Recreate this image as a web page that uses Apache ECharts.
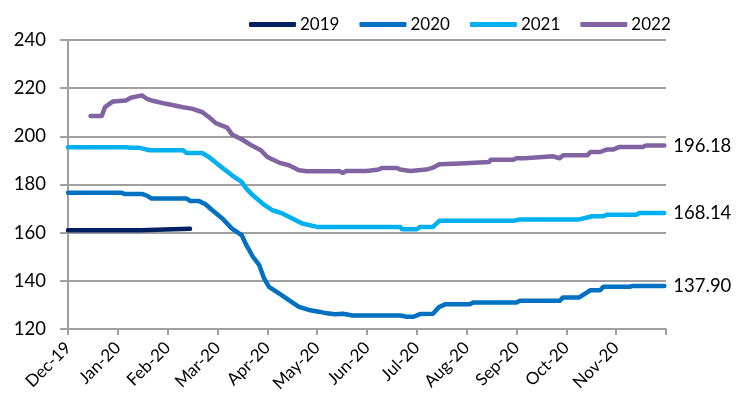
<!DOCTYPE html>
<html>
<head>
<meta charset="utf-8">
<script src="https://cdn.jsdelivr.net/npm/echarts@6/dist/echarts.min.js"></script>
<style>
  html, body { margin: 0; padding: 0; background: #fff; }
  #chart { width: 743px; height: 407px; }
</style>
</head>
<body>
<div id="chart"></div>
<script>
// Month tick labels along the seasonal x axis (Dec through Nov, plus the closing Dec tick)
const tickLabels = ['Dec-19', 'Jan-20', 'Feb-20', 'Mar-20', 'Apr-20', 'May-20', 'Jun-20',
                    'Jul-20', 'Aug-20', 'Sep-20', 'Oct-20', 'Nov-20', ''];

const seriesNames = ['2019', '2020', '2021', '2022'];

// Each series: observation dates (MM-DD on the seasonal calendar) and values
const dates2019 = ['12-01', '01-15', '01-16', '02-14'];
const values2019 = [161.0, 161.0, 161.6, 161.6];

const dates2020 = ['12-01', '01-03', '01-05', '01-16', '01-19', '01-22', '02-12', '02-14', '02-19',
                   '02-23', '02-27', '03-04', '03-10', '03-16', '03-19', '03-23', '03-27', '03-30',
                   '04-02', '04-08', '04-14', '04-20', '04-26', '05-02', '05-07', '05-12', '05-17',
                   '05-23', '06-01', '06-21', '06-25', '06-29', '07-03', '07-11', '07-15', '07-19',
                   '08-03', '08-05', '09-01', '09-03', '09-27', '09-29', '10-09', '10-11', '10-16',
                   '10-22', '10-24', '11-09', '11-11', '11-30'];
const values2020 = [176.6, 176.6, 176.1, 176.1, 175.4, 174.2, 174.2, 173.2, 173.2,
                    171.8, 169.3, 165.9, 161.7, 159.0, 154.8, 150.0, 146.5, 141.0,
                    137.5, 134.8, 132.0, 129.2, 127.9, 127.2, 126.5, 126.1, 126.3,
                    125.6, 125.6, 125.6, 125.1, 125.1, 126.2, 126.3, 129.2, 130.3,
                    130.3, 131.0, 131.0, 131.7, 131.7, 133.1, 133.1, 134.0, 136.1,
                    136.1, 137.5, 137.5, 137.9, 137.90];

const dates2021 = ['12-01', '01-06', '01-07', '01-09', '01-14', '01-17', '01-21', '02-10', '02-12',
                   '02-21', '02-25', '03-02', '03-10', '03-16', '03-19', '03-23', '03-29', '04-04',
                   '04-10', '04-16', '04-22', '05-01', '06-21', '06-22', '07-01', '07-03', '07-11',
                   '07-15', '08-30', '09-03', '10-09', '10-14', '10-17', '10-24', '10-26', '11-13',
                   '11-15', '11-30'];
const values2021 = [195.5, 195.5, 194.8, 195.3, 195.3, 194.8, 194.2, 194.2, 193.1,
                    193.1, 191.4, 188.0, 183.8, 181.1, 178.3, 175.5, 172.1, 169.3,
                    168.0, 165.9, 163.8, 162.4, 162.4, 161.4, 161.4, 162.4, 162.4,
                    164.9, 164.9, 165.5, 165.5, 166.3, 166.8, 166.8, 167.4, 167.4,
                    168.14, 168.14];

const dates2022 = ['12-15', '12-22', '12-24', '12-29', '01-06', '01-09', '01-16', '01-19', '01-22',
                   '01-31', '02-10', '02-15', '02-21', '02-25', '02-29', '03-07', '03-10', '03-16',
                   '03-22', '03-28', '04-01', '04-08', '04-14', '04-20', '04-25', '05-15', '05-17',
                   '05-19', '06-01', '06-02', '06-08', '06-10', '06-19', '06-21', '06-27', '06-28',
                   '07-07', '07-11', '07-15', '07-28', '07-29', '08-15', '08-16', '08-30', '09-01',
                   '09-06', '09-07', '09-23', '09-27', '09-29', '10-14', '10-16', '10-22', '10-26',
                   '10-30', '11-03', '11-17', '11-19', '11-30'];
const values2022 = [208.4, 208.4, 212.1, 214.5, 214.9, 216.0, 217.0, 215.6, 214.9,
                    213.5, 212.1, 211.5, 210.1, 208.0, 205.5, 203.6, 200.8, 198.8,
                    196.3, 194.2, 191.4, 189.1, 188.0, 185.9, 185.5, 185.5, 184.8,
                    185.6, 185.6, 186.2, 186.2, 186.9, 186.9, 186.2, 185.6, 186.2,
                    186.2, 187.0, 188.4, 188.7, 189.3, 189.3, 190.3, 190.3, 190.9,
                    190.9, 191.4, 191.7, 190.9, 192.1, 192.1, 193.5, 193.5, 194.5,
                    194.5, 195.6, 195.6, 196.18, 196.18];

const colors = ['#002060', '#0070C0', '#00B0F0', '#8064A2'];

// Seasonal calendar: Dec is month 0, Jan..Nov are 1..11 (leap-year February)
const daysInMonth = { 12: 31, 1: 31, 2: 29, 3: 31, 4: 30, 5: 31, 6: 30, 7: 31, 8: 31, 9: 30, 10: 31, 11: 30 };
function monthPos(mmdd) {
  const [m, d] = mmdd.split('-').map(Number);
  const idx = m === 12 ? 0 : m;
  return idx + (d - 1) / daysInMonth[m];
}
function pairs(dates, values) {
  return dates.map((d, i) => [monthPos(d), values[i]]);
}

const seriesData = [
  pairs(dates2019, values2019),
  pairs(dates2020, values2020),
  pairs(dates2021, values2021),
  pairs(dates2022, values2022)
];

const fontFamily = 'Lato, "Open Sans", sans-serif';
const gridColor = '#a0a0a0';

const chart = echarts.init(document.getElementById('chart'), null, { renderer: 'canvas' });

chart.setOption({
  animation: false,
  color: colors,
  textStyle: { fontFamily: fontFamily, color: '#000' },
  legend: {
    left: 244,
    top: 11,
    itemWidth: 47,
    itemHeight: 5,
    itemGap: 20,
    icon: 'roundRect',
    textStyle: { fontSize: 17, color: '#000', fontFamily: fontFamily, padding: [0, 0, 0, -1] },
    data: seriesNames
  },
  grid: { left: 68, right: 77, top: 40, bottom: 78 },
  xAxis: {
    type: 'value',
    min: 0,
    max: 12,
    interval: 1,
    axisLine: { show: true, lineStyle: { color: gridColor, width: 2 } },
    axisTick: { show: true, length: 6, lineStyle: { color: gridColor, width: 2 } },
    splitLine: { show: false },
    axisLabel: {
      rotate: 45,
      margin: 16,
      fontSize: 17,
      color: '#000',
      fontFamily: fontFamily,
      formatter: v => tickLabels[Math.round(v)] || ''
    }
  },
  yAxis: {
    type: 'value',
    min: 120,
    max: 240,
    interval: 20,
    axisLine: { show: true, lineStyle: { color: gridColor, width: 2 } },
    axisTick: { show: true, length: 8, lineStyle: { color: gridColor, width: 2 } },
    splitLine: { show: true, lineStyle: { color: gridColor, width: 2 } },
    axisLabel: { margin: 22, fontSize: 18.5, color: '#000', fontFamily: fontFamily }
  },
  series: seriesNames.map((name, i) => ({
    name: name,
    type: 'line',
    data: seriesData[i],
    showSymbol: false,
    symbol: 'none',
    lineStyle: { width: 4.5, color: colors[i], cap: 'round', join: 'round' },
    itemStyle: { color: colors[i] },
    endLabel: {
      show: i > 0,
      distance: 9,
      fontSize: 18.5,
      color: '#000',
      fontFamily: fontFamily,
      formatter: p => p.value[1].toFixed(2)
    }
  }))
});
</script>
</body>
</html>
